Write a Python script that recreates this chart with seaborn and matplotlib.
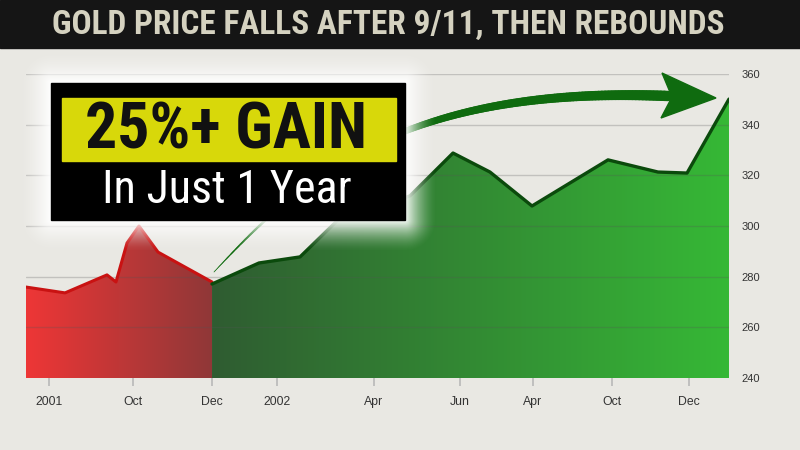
import numpy as np
import matplotlib
matplotlib.use("Agg")
import matplotlib.pyplot as plt
import seaborn as sns
from matplotlib.colors import to_rgb
from matplotlib.patches import Rectangle, Polygon
from matplotlib.collections import LineCollection
from matplotlib import font_manager as fm
from matplotlib.font_manager import FontProperties

# ---------------- data ----------------
red_t = [0, 5.55, 11.52, 12.80, 14.37, 16.07, 18.78, 26.46]
red_v = [275.9, 273.6, 280.7, 277.9, 293.3, 300.0, 289.7, 277.9]
green_t = [26.46, 33.14, 38.98, 44.38, 54.62, 60.74, 66.00, 71.98, 82.79, 89.90, 94.03, 100]
green_v = [277.1, 285.4, 287.8, 302.4, 311.9, 328.8, 321.3, 307.9, 326.1, 321.3, 320.9, 350.1]
xtick_pos = [3.27, 15.22, 26.46, 35.70, 49.50, 61.74, 72.12, 83.36, 94.31]
xtick_labels = ["2001", "Oct", "Dec", "2002", "Apr", "Jun", "Apr", "Oct", "Dec"]
yticks = [240, 260, 280, 300, 320, 340, 360]
title = "GOLD PRICE FALLS AFTER 9/11, THEN REBOUNDS"
badge_main = "25%+ GAIN"
badge_sub = "In Just 1 Year"

sns.set_style("white")
plt.rcParams["font.family"] = ["Liberation Sans", "DejaVu Sans"]


# ---------- pick a condensed font if one is installed ----------
def pick_font(bold):
    fl = fm.fontManager.ttflist
    def w(f):
        try:
            return int(f.weight)
        except Exception:
            return {"bold": 700, "heavy": 800, "black": 900, "normal": 400,
                    "regular": 400, "medium": 500}.get(str(f.weight).lower(), 400)
    def ok_weight(f):
        return (w(f) >= 650) if bold else (380 <= w(f) <= 520)
    prefs = [
        lambda f: "Roboto Condensed" in f.name,
        lambda f: "Liberation Sans Narrow" in f.name,
        lambda f: f.name == "Roboto" and "ondensed" in f.fname,
        lambda f: f.name.startswith("DejaVu Sans") and "ondensed" in f.fname and "Mono" not in f.name,
        lambda f: ("Narrow" in f.name or "Condensed" in f.name) and f.style == "normal",
        lambda f: f.name == "DejaVu Sans" and "Mono" not in f.fname,
    ]
    for p in prefs:
        c = [f for f in fl if p(f) and ok_weight(f) and f.style == "normal"]
        if c:
            c.sort(key=lambda f: abs(w(f) - (700 if bold else 400)))
            return FontProperties(fname=c[0].fname)
    return FontProperties(family="DejaVu Sans", weight="bold" if bold else "normal")


FP_BOLD = pick_font(True)
FP_REG = pick_font(False)

BG = "#e9e8e3"
fig = plt.figure(figsize=(8, 4.5), dpi=100)
fig.patch.set_facecolor(BG)

ax = fig.add_axes([26 / 800, 72 / 450, 703 / 800, 304 / 450])
ax.set_facecolor("none")
ymin, ymax = yticks[0], yticks[-1]


def gradient_area(x, y, c0, c1, z):
    poly = ax.fill_between(x, y, ymin, color="none", lw=0, zorder=z)
    n = 256
    a = np.linspace(0, 1, n)[None, :, None]
    c0 = np.array(to_rgb(c0))[None, None, :]
    c1 = np.array(to_rgb(c1))[None, None, :]
    img = c0 * (1 - a) + c1 * a
    img = np.repeat(img, 2, axis=0)
    im = ax.imshow(img, extent=[x[0], x[-1], ymin, ymax], aspect="auto",
                   origin="lower", zorder=z, interpolation="bilinear")
    im.set_clip_path(poly.get_paths()[0], transform=ax.transData)


gradient_area(red_t, red_v, "#ee3636", "#8f3838", 1)
gradient_area(green_t, green_v, "#2f5c31", "#36b836", 1)

for v in yticks[1:]:
    ax.axhline(v, color="#555555", alpha=0.26, lw=1, zorder=2)

sns.lineplot(x=red_t, y=red_v, ax=ax, color="#c91212", lw=2.2, zorder=4, legend=False)
sns.lineplot(x=green_t, y=green_v, ax=ax, color="#0b4a0c", lw=2.4, zorder=4, legend=False)

ax.set_xlim(0, 100)
ax.set_ylim(ymin, ymax)
ax.set_xticks(xtick_pos)
ax.set_xticklabels(xtick_labels)
ax.set_yticks(yticks)
ax.yaxis.tick_right()
ax.tick_params(axis="y", length=0, pad=9, labelsize=8, labelcolor="#333333")
ax.tick_params(axis="x", length=6, width=1.2, color="#b8b8b8", pad=7,
               labelsize=8.8, labelcolor="#333333", bottom=True)
for s in ax.spines.values():
    s.set_visible(False)
ax.set_xlabel("")
ax.set_ylabel("")

# ---------------- overlay (pixel coords) ----------------
ov = fig.add_axes([0, 0, 1, 1])
ov.patch.set_alpha(0)
ov.axis("off")
ov.set_xlim(0, 800)
ov.set_ylim(450, 0)

# title bar
ov.add_patch(Rectangle((0, 0), 800, 48, color="#151515", zorder=1))
t_title = ov.text(388, 25, title, ha="center", va="center", color="#d5d2c0",
                  fontproperties=FP_BOLD, fontsize=22, zorder=2)

# curved tapering arrow
P = np.array([[214, 272], [300, 180], [400, 85], [668, 96]], float)
t = np.linspace(0, 1, 220)[:, None]
B = ((1 - t) ** 3) * P[0] + 3 * ((1 - t) ** 2) * t * P[1] + 3 * (1 - t) * t ** 2 * P[2] + t ** 3 * P[3]
segs = np.stack([B[:-1], B[1:]], axis=1)
widths = np.linspace(0.5, 7.5, len(segs))
ARROW = "#0f6b0f"
lc = LineCollection(segs, linewidths=widths, colors=ARROW, capstyle="round", zorder=2)
ov.add_collection(lc)
ov.add_patch(Polygon([[716, 98], [662, 73], [672, 97], [661, 118]], closed=True,
                     color=ARROW, zorder=2))

# white glow around the badge
bx0, bx1, by0, by1 = 51, 405, 83, 220
X, Y = np.meshgrid(np.arange(800) + 0.5, np.arange(450) + 0.5)
dx = np.maximum(np.maximum(bx0 - X, X - bx1), 0)
dy = np.maximum(np.maximum(by0 - Y, Y - by1), 0)
d = np.hypot(dx, dy)
alpha = np.clip(1 - d / 32.0, 0, 1) ** 1.6 * 0.97
glow = np.zeros((450, 800, 4))
glow[..., :3] = 1.0
glow[..., 3] = alpha
ov.imshow(glow, extent=[0, 800, 450, 0], aspect="auto", zorder=3, interpolation="bilinear")

# badge
ov.add_patch(Rectangle((bx0, by0), bx1 - bx0, by1 - by0, color="black", zorder=4))
ov.add_patch(Rectangle((62, 98), 334, 63, color="#d8d80a", zorder=5))
t_main = ov.text(226, 131, badge_main, ha="center", va="center", color="#111111",
                 fontproperties=FP_BOLD, fontsize=44, zorder=6)
t_sub = ov.text(227, 190, badge_sub, ha="center", va="center", color="white",
                fontproperties=FP_REG, fontsize=32, zorder=6)

ov.set_xlim(0, 800)
ov.set_ylim(450, 0)

# fit text widths to the reference's extents
fig.canvas.draw()
r = fig.canvas.get_renderer()
for txt, target, maxfs in [(t_title, 725, 24), (t_main, 302, 46), (t_sub, 250, 34)]:
    wpx = txt.get_window_extent(r).width
    fs = txt.get_fontsize() * target / wpx
    txt.set_fontsize(min(fs, maxfs))

fig.savefig("out.png", dpi=100, facecolor=BG)
